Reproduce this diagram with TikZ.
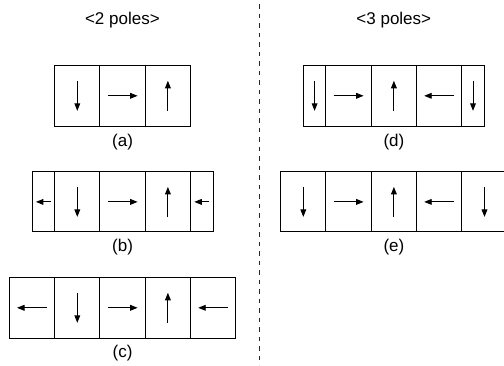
\documentclass[tikz,border=0pt]{standalone}
\usepackage{fontspec}
\setmainfont{Liberation Sans}
\usetikzlibrary{arrows.meta}
\newcommand\dnarr[2]{\draw[arr] ([yshift=#2]#1.center) -- ([yshift=-#2]#1.center);}
\newcommand\uparr[2]{\draw[arr] ([yshift=-#2]#1.center) -- ([yshift=#2]#1.center);}
\newcommand\rtarr[2]{\draw[arr] ([xshift=-#2]#1.center) -- ([xshift=#2]#1.center);}
\newcommand\ltarr[2]{\draw[arr] ([xshift=#2]#1.center) -- ([xshift=-#2]#1.center);}
\tikzset{
  cell/.style={draw=black, line width=1pt, minimum width=45.3pt, minimum height=61pt, inner sep=0pt, outer sep=0pt},
  halfcell/.style={cell, minimum width=22.6pt},
  arr/.style={line width=0.9pt, -{Triangle[length=7.5pt,width=5.8pt]}},
  lbl/.style={font=\fontsize{17}{20}\selectfont, inner sep=0pt},
  sep/.style={draw=black!85, line width=1pt, dash pattern=on 4.7pt off 4.8pt}
}
\begin{document}
\begin{tikzpicture}[x=1pt,y=-1pt]
\clip (0,0) rectangle (504,365);
\useasboundingbox (0,0) rectangle (504,365);
% titles
\node[lbl] (t2) at (122.4,20.5) {<2 poles>};
\node[lbl] (t3) at (393.8,20.5) {<3 poles>};
% separator
\coordinate (s1) at (259.3,4);
\coordinate (s2) at (259.3,365);
\draw[sep] (s1) -- (s2);
% (a)
\node[cell] (a1) at (77.3,95.8) {};
\node[cell] (a2) at (122.6,95.8) {};
\node[cell] (a3) at (167.9,95.8) {};
\dnarr{a1}{15pt}\rtarr{a2}{15pt}\uparr{a3}{15pt}
\node[lbl] (la) at (122.6,141.7) {(a)};
% (b)
\node[halfcell, minimum height=60pt] (b0) at (43.4,201.9) {};
\node[cell, minimum height=60pt] (b1) at (77.3,201.9) {};
\node[cell, minimum height=60pt] (b2) at (122.6,201.9) {};
\node[cell, minimum height=60pt] (b3) at (167.9,201.9) {};
\node[halfcell, minimum height=60pt] (b4) at (201.8,201.9) {};
\ltarr{b0}{7.5pt}\dnarr{b1}{15pt}\rtarr{b2}{15pt}\uparr{b3}{15pt}\ltarr{b4}{7.5pt}
\node[lbl] (lb) at (122.6,247.3) {(b)};
% (c)
\node[cell] (c0) at (32.0,307.8) {};
\node[cell] (c1) at (77.3,307.8) {};
\node[cell] (c2) at (122.6,307.8) {};
\node[cell] (c3) at (167.9,307.8) {};
\node[cell] (c4) at (213.2,307.8) {};
\ltarr{c0}{15pt}\dnarr{c1}{15pt}\rtarr{c2}{15pt}\uparr{c3}{15pt}\ltarr{c4}{15pt}
\node[lbl] (lc) at (122.6,352.7) {(c)};
% (d)
\node[halfcell] (d0) at (314.6,95.8) {};
\node[cell] (d1) at (348.6,95.8) {};
\node[cell] (d2) at (393.9,95.8) {};
\node[cell] (d3) at (439.2,95.8) {};
\node[halfcell] (d4) at (473.0,95.8) {};
\dnarr{d0}{15pt}\rtarr{d1}{15pt}\uparr{d2}{15pt}\ltarr{d3}{15pt}\dnarr{d4}{15pt}
\node[lbl] (ld) at (393.9,141.7) {(d)};
% (e)
\node[cell, minimum height=60pt] (e0) at (303.3,201.9) {};
\node[cell, minimum height=60pt] (e1) at (348.6,201.9) {};
\node[cell, minimum height=60pt] (e2) at (393.9,201.9) {};
\node[cell, minimum height=60pt] (e3) at (439.2,201.9) {};
\node[cell, minimum height=60pt] (e4) at (484.5,201.9) {};
\dnarr{e0}{15pt}\rtarr{e1}{15pt}\uparr{e2}{15pt}\ltarr{e3}{15pt}\dnarr{e4}{15pt}
\node[lbl] (le) at (393.9,247.3) {(e)};
\end{tikzpicture}
\end{document}
